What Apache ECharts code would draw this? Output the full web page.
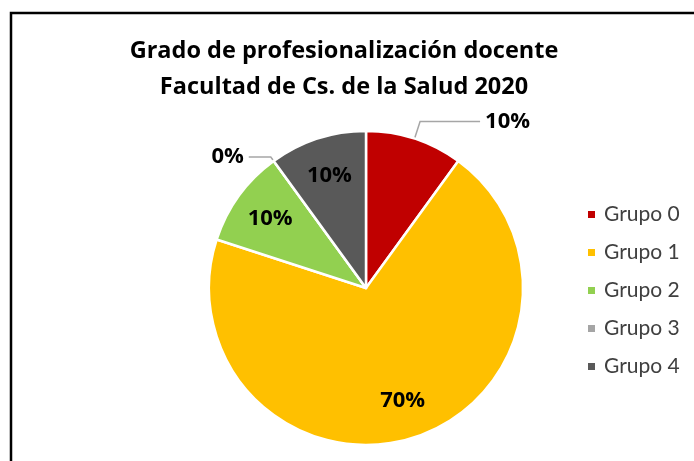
<!DOCTYPE html>
<html>
<head>
<meta charset="utf-8">
<script src="https://cdn.jsdelivr.net/npm/echarts@6/dist/echarts.min.js"></script>
<style>
  html, body { margin: 0; padding: 0; background: #fff; }
  #main { width: 694px; height: 461px; }
</style>
</head>
<body>
<div id="main"></div>
<script>
// datos del gráfico
var categorias = ["Grupo 0", "Grupo 1", "Grupo 2", "Grupo 3", "Grupo 4"];
var porcentajes = [10, 70, 10, 0, 10];
var colores = ["#C00000", "#FFC000", "#92D050", "#A5A5A5", "#595959"];
// etiquetas fuera del sector (las demas van dentro)
var fuera = [true, false, false, true, false];

var myChart = echarts.init(document.getElementById("main"));

var centro = [366, 288];
var radio = 157;
var fuente = "Open Sans";
// largo de las lineas guia [radial, horizontal]
var guias = { 0: [18, 60], 3: [5, 22] };

var datosPie = [];
var datosEtiq = [];
for (var i = 0; i < categorias.length; i++) {
  var item = {
    name: categorias[i],
    value: porcentajes[i],
    itemStyle: { color: colores[i] },
    label: { show: fuera[i] },
    labelLine: { show: fuera[i] }
  };
  if (guias[i]) {
    item.labelLine.length = guias[i][0];
    item.labelLine.length2 = guias[i][1];
  }
  datosPie.push(item);
  datosEtiq.push({
    name: categorias[i],
    value: porcentajes[i],
    label: { show: !fuera[i] }
  });
}

var option = {
  backgroundColor: "#fff",
  title: {
    text: "Grado de profesionalización docente\nFacultad de Cs. de la Salud 2020",
    left: 339,
    top: 28,
    textAlign: "center",
    textStyle: {
      fontFamily: fuente,
      fontWeight: "bold",
      fontSize: 23.5,
      lineHeight: 36,
      color: "#000"
    }
  },
  legend: {
    orient: "vertical",
    left: 581,
    top: 199,
    itemWidth: 9,
    itemHeight: 9,
    itemGap: 17,
    icon: "rect",
    data: categorias,
    textStyle: {
      fontFamily: "Lato",
      fontSize: 21,
      lineHeight: 21,
      color: "#404040",
      padding: [0, 0, 0, 3]
    }
  },
  graphic: [
    {
      type: "rect",
      shape: { x: 11, y: 13, width: 720, height: 500 },
      style: { fill: "none", stroke: "#000", lineWidth: 2.5 },
      silent: true
    }
  ],
  series: [
    {
      name: "Grado",
      type: "pie",
      center: centro,
      radius: [0, radio],
      startAngle: 90,
      clockwise: true,
      avoidLabelOverlap: false,
      itemStyle: { borderColor: "#fff", borderWidth: 2.5 },
      label: {
        position: "outside",
        formatter: "{c}%",
        fontFamily: fuente,
        fontWeight: "bold",
        fontSize: 22,
        color: "#000"
      },
      labelLine: {
        lineStyle: { color: "#A6A6A6", width: 1.5 }
      },
      emphasis: { disabled: true },
      data: datosPie
    },
    {
      name: "Etiquetas",
      type: "pie",
      center: centro,
      radius: [74, radio],
      startAngle: 90,
      clockwise: true,
      silent: true,
      avoidLabelOverlap: false,
      itemStyle: { color: "rgba(0,0,0,0)" },
      label: {
        position: "inside",
        formatter: "{c}%",
        fontFamily: fuente,
        fontWeight: "bold",
        fontSize: 22,
        color: "#000"
      },
      labelLine: { show: false },
      data: datosEtiq
    }
  ]
};

myChart.setOption(option);
</script>
</body>
</html>
